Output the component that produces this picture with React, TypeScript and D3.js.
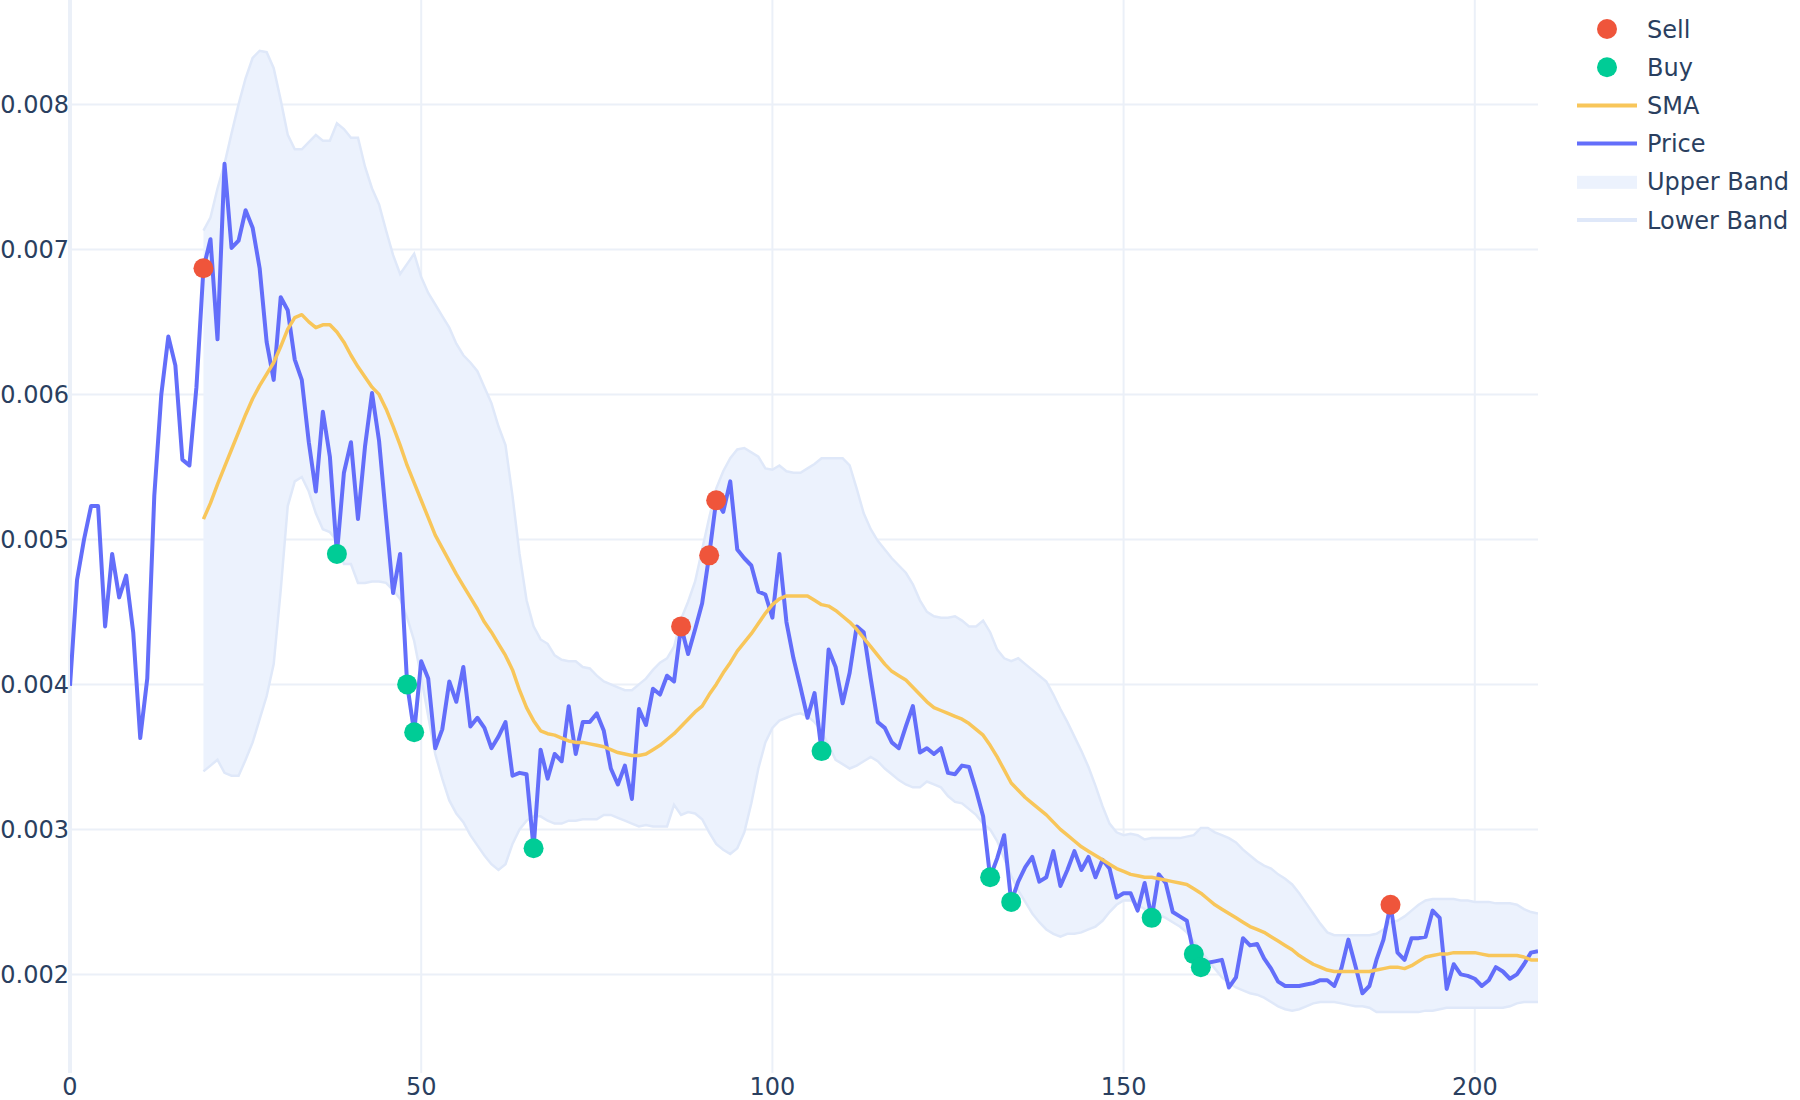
import React, { useEffect, useRef } from 'react';
import * as d3 from 'd3';

const width = 1800;
const height = 1100;
const plot = { left: 70, right: 1538, top: 0, bottom: 1073 };

// closing price, one value per index 0..209
const price = [
  0.00399, 0.00472, 0.005, 0.00523, 0.00523, 0.0044, 0.0049, 0.0046, 0.00475, 0.00436,
  0.00363, 0.00404, 0.0053, 0.006, 0.0064, 0.0062, 0.00555, 0.00551, 0.00605, 0.00687,
  0.00707, 0.00638, 0.00759, 0.00701, 0.00706, 0.00727, 0.00715, 0.00687, 0.00636, 0.0061,
  0.00667, 0.00658, 0.00624, 0.0061, 0.00567, 0.00533, 0.00588, 0.00557, 0.0049, 0.00546,
  0.00567, 0.00514, 0.00564, 0.00601, 0.00568, 0.00515, 0.00463, 0.0049, 0.004, 0.00367,
  0.00416, 0.00404, 0.00356, 0.00369, 0.00402, 0.00388, 0.00412, 0.00371, 0.00377, 0.0037,
  0.00356, 0.00364, 0.00374, 0.00337, 0.00339, 0.00338, 0.00287, 0.00355, 0.00335, 0.00352,
  0.00347, 0.00385, 0.00352, 0.00374, 0.00374, 0.0038, 0.00368, 0.00342, 0.00331, 0.00344,
  0.00321, 0.00383, 0.00372, 0.00397, 0.00393, 0.00406, 0.00402, 0.0044, 0.00421, 0.00438,
  0.00456, 0.00489, 0.00527, 0.00519, 0.0054, 0.00493, 0.00487, 0.00482, 0.00464, 0.00462,
  0.00446, 0.0049, 0.00443, 0.00418, 0.00398, 0.00377, 0.00394, 0.00354, 0.00424, 0.00412,
  0.00387, 0.00408, 0.0044, 0.00436, 0.00404, 0.00374, 0.0037, 0.0036, 0.00356, 0.00371,
  0.00385, 0.00353, 0.00356, 0.00352, 0.00356, 0.00339, 0.00338, 0.00344, 0.00343, 0.00327,
  0.00309, 0.00267, 0.0028, 0.00296, 0.0025, 0.00264, 0.00274, 0.00281, 0.00264, 0.00267,
  0.00285, 0.00261, 0.00272, 0.00285, 0.00272, 0.00281, 0.00267, 0.00279, 0.00273, 0.00253,
  0.00256, 0.00256, 0.00244, 0.00263, 0.00239, 0.00269, 0.00263, 0.00243, 0.0024, 0.00237,
  0.00214, 0.00205, 0.00208, 0.00209, 0.0021, 0.00191, 0.00198, 0.00225, 0.0022, 0.00221,
  0.00211, 0.00204, 0.00195, 0.00192, 0.00192, 0.00192, 0.00193, 0.00194, 0.00196, 0.00196,
  0.00192, 0.00204, 0.00224, 0.00206, 0.00187, 0.00192, 0.0021, 0.00224, 0.00248, 0.00215,
  0.0021, 0.00225, 0.00225, 0.00226, 0.00244, 0.00239, 0.0019, 0.00207, 0.002, 0.00199,
  0.00197, 0.00192, 0.00196, 0.00205, 0.00202, 0.00197, 0.002, 0.00207, 0.00215, 0.00216,
];

// rolling series start at index 19
const bandStart = 19;

const sma = [
  0.00514, 0.00525, 0.00538, 0.0055, 0.00562, 0.00574, 0.00586, 0.00597, 0.00606, 0.00614,
  0.00622, 0.00633, 0.00645, 0.00653, 0.00655, 0.0065, 0.00646, 0.00648, 0.00648, 0.00643,
  0.00636, 0.00627, 0.00619, 0.00612, 0.00605, 0.006, 0.0059, 0.00578, 0.00565, 0.00551,
  0.00539, 0.00527, 0.00515, 0.00503, 0.00494, 0.00485, 0.00476, 0.00468, 0.0046, 0.00452,
  0.00443, 0.00436, 0.00428, 0.0042, 0.0041, 0.00396, 0.00384, 0.00375, 0.00368, 0.00366,
  0.00365, 0.00363, 0.00361, 0.0036, 0.0036, 0.00359, 0.00358, 0.00357, 0.00355, 0.00353,
  0.00352, 0.00351, 0.00351, 0.00352, 0.00355, 0.00358, 0.00362, 0.00366, 0.00371, 0.00376,
  0.00381, 0.00385, 0.00393, 0.004, 0.00408, 0.00415, 0.00423, 0.00429, 0.00435, 0.00442,
  0.00449, 0.00455, 0.00459, 0.00461, 0.00461, 0.00461, 0.00461, 0.00458, 0.00455, 0.00454,
  0.00451, 0.00447, 0.00443, 0.00438, 0.00432, 0.00426, 0.0042, 0.00414, 0.00409, 0.00406,
  0.00403, 0.00398, 0.00393, 0.00388, 0.00384, 0.00382, 0.0038, 0.00378, 0.00376, 0.00373,
  0.00369, 0.00365, 0.00358, 0.0035, 0.00341, 0.00332, 0.00327, 0.00322, 0.00318, 0.00314,
  0.0031, 0.00305, 0.003, 0.00296, 0.00292, 0.00288, 0.00285, 0.00282, 0.00279, 0.00276,
  0.00273, 0.00271, 0.00269, 0.00268, 0.00267, 0.00267, 0.00266, 0.00265, 0.00264, 0.00263,
  0.00262, 0.00259, 0.00256, 0.00252, 0.00248, 0.00245, 0.00242, 0.00239, 0.00236, 0.00233,
  0.00231, 0.00229, 0.00226, 0.00223, 0.0022, 0.00217, 0.00213, 0.0021, 0.00207, 0.00205,
  0.00203, 0.00202, 0.00202, 0.00202, 0.00202, 0.00202, 0.00202, 0.00203, 0.00204, 0.00205,
  0.00205, 0.00204, 0.00206, 0.00209, 0.00212, 0.00213, 0.00214, 0.00214, 0.00215, 0.00215,
  0.00215, 0.00215, 0.00214, 0.00213, 0.00213, 0.00213, 0.00213, 0.00213, 0.00212, 0.0021, 0.0021,
];

const upperBand = [
  0.00713, 0.00722, 0.00742, 0.00759, 0.0078, 0.008, 0.00818, 0.00832, 0.00837, 0.00836,
  0.00825, 0.00803, 0.00779, 0.00769, 0.00769, 0.00774, 0.00779, 0.00775, 0.00775, 0.00787,
  0.00783, 0.00777, 0.00777, 0.00757, 0.00742, 0.00731, 0.00713, 0.00696, 0.00683, 0.0069,
  0.00697, 0.00681, 0.0067, 0.00662, 0.00654, 0.00646, 0.00635, 0.00627, 0.00622, 0.00616,
  0.00605, 0.00594, 0.00578, 0.00565, 0.0053, 0.0049, 0.00458, 0.0044, 0.00431, 0.00428,
  0.0042, 0.00417, 0.00416, 0.00416, 0.00412, 0.00411, 0.00406, 0.00402, 0.004, 0.00398,
  0.00396, 0.00396, 0.004, 0.00404, 0.0041, 0.00415, 0.00418, 0.00426, 0.00445, 0.00457,
  0.00471, 0.00493, 0.00515, 0.00535, 0.00547, 0.00556, 0.00562, 0.00563, 0.0056, 0.00557,
  0.00549, 0.00548, 0.00551, 0.00547, 0.00546, 0.00546, 0.00549, 0.00552, 0.00556, 0.00556,
  0.00556, 0.00556, 0.00551, 0.00535, 0.00518, 0.00507, 0.00499, 0.00493, 0.00487, 0.00482,
  0.00477, 0.00469, 0.00458, 0.0045, 0.00447, 0.00446, 0.00446, 0.00447, 0.00444, 0.0044,
  0.0044, 0.00444, 0.00436, 0.00424, 0.00418, 0.00416, 0.00418, 0.00414, 0.0041, 0.00406,
  0.00402, 0.00393, 0.00383, 0.00374, 0.00364, 0.00354, 0.00343, 0.0033, 0.00316, 0.00304,
  0.00298, 0.00296, 0.00297, 0.00296, 0.00293, 0.00294, 0.00294, 0.00294, 0.00294, 0.00294,
  0.00295, 0.00296, 0.00301, 0.00301, 0.00298, 0.00296, 0.00294, 0.00291, 0.00286, 0.00282,
  0.00278, 0.00275, 0.00273, 0.00269, 0.00266, 0.00262, 0.00256, 0.00249, 0.00242, 0.00235,
  0.00229, 0.00227, 0.00227, 0.00227, 0.00227, 0.00227, 0.00227, 0.00228, 0.00231, 0.00236,
  0.00237, 0.0024, 0.00244, 0.00248, 0.00251, 0.00252, 0.00252, 0.00252, 0.00252, 0.00251,
  0.00251, 0.0025, 0.0025, 0.0025, 0.00249, 0.00249, 0.00249, 0.00248, 0.00245, 0.00243, 0.00242,
];

const lowerBand = [
  0.0034, 0.00344, 0.00348, 0.00339, 0.00337, 0.00337, 0.00348, 0.0036, 0.00376, 0.00392,
  0.00414, 0.00465, 0.00523, 0.0054, 0.00543, 0.00533, 0.00518, 0.00507, 0.00505, 0.00499,
  0.00483, 0.00483, 0.0047, 0.0047, 0.00471, 0.00471, 0.0047, 0.00465, 0.00459, 0.00446,
  0.0043, 0.00405, 0.00378, 0.00352, 0.00335, 0.0032, 0.00311, 0.00305, 0.00296, 0.00289,
  0.00282, 0.00276, 0.00272, 0.00276, 0.0029, 0.003, 0.00306, 0.00309, 0.00309, 0.00306,
  0.00304, 0.00304, 0.00306, 0.00306, 0.00307, 0.00307, 0.00307, 0.0031, 0.0031, 0.00308,
  0.00306, 0.00304, 0.00302, 0.00303, 0.00302, 0.00302, 0.00302, 0.00317, 0.0031, 0.00312,
  0.00311, 0.00307, 0.00298, 0.0029, 0.00286, 0.00283, 0.00287, 0.00298, 0.00318, 0.00342,
  0.0036, 0.0037, 0.00375, 0.00377, 0.00379, 0.0038, 0.00378, 0.00374, 0.00368, 0.00358,
  0.00348, 0.00345, 0.00342, 0.00344, 0.00347, 0.0035, 0.00347, 0.00342, 0.00338, 0.00334,
  0.00331, 0.00329, 0.00329, 0.00333, 0.00331, 0.00329, 0.00323, 0.00319, 0.00318, 0.00314,
  0.0031, 0.00304, 0.003, 0.00292, 0.0028, 0.00268, 0.00258, 0.0025, 0.00242, 0.00236,
  0.00231, 0.00228, 0.00226, 0.00228, 0.00228, 0.00229, 0.00231, 0.00233, 0.00237, 0.00243,
  0.00248, 0.00251, 0.00251, 0.00248, 0.00245, 0.00243, 0.00241, 0.00239, 0.00236, 0.00233,
  0.00229, 0.00223, 0.00216, 0.0021, 0.00204, 0.00198, 0.00194, 0.00191, 0.00189, 0.00187,
  0.00186, 0.00184, 0.00181, 0.00178, 0.00176, 0.00175, 0.00176, 0.00178, 0.0018, 0.00181,
  0.00181, 0.00181, 0.0018, 0.00179, 0.00178, 0.00178, 0.00177, 0.00174, 0.00174, 0.00174,
  0.00174, 0.00174, 0.00174, 0.00174, 0.00175, 0.00175, 0.00176, 0.00177, 0.00177, 0.00177,
  0.00177, 0.00177, 0.00177, 0.00177, 0.00177, 0.00177, 0.00178, 0.0018, 0.00181, 0.00181, 0.00181,
];

const sellIdx = [19, 87, 91, 92, 188];
const buyIdx = [38, 48, 49, 66, 107, 131, 134, 154, 160, 161];

const xTicks = [0, 50, 100, 150, 200];
const yTicks = [0.002, 0.003, 0.004, 0.005, 0.006, 0.007, 0.008];

const colors = {
  price: '#636EFA',
  sma: '#F8C65A',
  sell: '#EF553B',
  buy: '#00CC96',
  bandFill: '#ECF2FD',
  bandLine: '#DFE8F9',
  grid: '#EBF0F8',
  text: '#2a3f5f',
};

const legendItems = [
  { name: 'Sell', kind: 'marker', color: colors.sell },
  { name: 'Buy', kind: 'marker', color: colors.buy },
  { name: 'SMA', kind: 'line', color: colors.sma },
  { name: 'Price', kind: 'line', color: colors.price },
  { name: 'Upper Band', kind: 'fill', color: colors.bandFill },
  { name: 'Lower Band', kind: 'line', color: colors.bandLine },
];

const font = '"DejaVu Sans", Verdana, sans-serif';

const App: React.FC = () => {
  const ref = useRef<SVGSVGElement>(null);

  useEffect(() => {
    if (!ref.current) return;
    const svg = d3.select(ref.current);
    svg.selectAll('*').remove();

    const x = d3.scaleLinear().domain([0, 209]).range([plot.left, plot.right]);
    const y = d3.scaleLinear().domain([0.00132, 0.00872]).range([plot.bottom, plot.top]);

    const defs = svg.append('defs');
    defs
      .append('clipPath')
      .attr('id', 'plotClip')
      .append('rect')
      .attr('x', plot.left)
      .attr('y', plot.top)
      .attr('width', plot.right - plot.left)
      .attr('height', plot.bottom - plot.top);

    // grid
    const grid = svg.append('g');
    grid
      .selectAll('line.h')
      .data(yTicks)
      .enter()
      .append('line')
      .attr('x1', plot.left)
      .attr('x2', plot.right)
      .attr('y1', d => y(d))
      .attr('y2', d => y(d))
      .attr('stroke', colors.grid)
      .attr('stroke-width', 2);
    grid
      .selectAll('line.v')
      .data(xTicks.filter(d => d !== 0))
      .enter()
      .append('line')
      .attr('x1', d => x(d))
      .attr('x2', d => x(d))
      .attr('y1', plot.top)
      .attr('y2', plot.bottom)
      .attr('stroke', colors.grid)
      .attr('stroke-width', 2);
    // zero line
    grid
      .append('line')
      .attr('x1', x(0))
      .attr('x2', x(0))
      .attr('y1', plot.top)
      .attr('y2', plot.bottom)
      .attr('stroke', colors.grid)
      .attr('stroke-width', 4);

    const g = svg.append('g').attr('clip-path', 'url(#plotClip)');

    const bandIdx = d3.range(lowerBand.length);
    const area = d3
      .area<number>()
      .x(i => x(i + bandStart))
      .y0(i => y(lowerBand[i]))
      .y1(i => y(upperBand[i]));
    g.append('path').attr('d', area(bandIdx)).attr('fill', colors.bandFill);

    const bandLine = (vals: number[]) =>
      d3
        .line<number>()
        .x((_, i) => x(i + bandStart))
        .y(v => y(v))(vals);

    g.append('path')
      .attr('d', bandLine(lowerBand))
      .attr('fill', 'none')
      .attr('stroke', colors.bandLine)
      .attr('stroke-width', 2.5);
    g.append('path')
      .attr('d', bandLine(upperBand))
      .attr('fill', 'none')
      .attr('stroke', colors.bandLine)
      .attr('stroke-width', 2.5);

    const priceLine = d3
      .line<number>()
      .x((_, i) => x(i))
      .y(v => y(v));
    g.append('path')
      .attr('d', priceLine(price))
      .attr('fill', 'none')
      .attr('stroke', colors.price)
      .attr('stroke-width', 4)
      .attr('stroke-linejoin', 'round');

    g.append('path')
      .attr('d', bandLine(sma))
      .attr('fill', 'none')
      .attr('stroke', colors.sma)
      .attr('stroke-width', 3.5)
      .attr('stroke-linejoin', 'round');

    g.selectAll('circle.buy')
      .data(buyIdx)
      .enter()
      .append('circle')
      .attr('cx', i => x(i))
      .attr('cy', i => y(price[i]))
      .attr('r', 10)
      .attr('fill', colors.buy);
    g.selectAll('circle.sell')
      .data(sellIdx)
      .enter()
      .append('circle')
      .attr('cx', i => x(i))
      .attr('cy', i => y(price[i]))
      .attr('r', 10)
      .attr('fill', colors.sell);

    // axis labels
    svg
      .append('g')
      .selectAll('text')
      .data(yTicks)
      .enter()
      .append('text')
      .attr('x', 69)
      .attr('y', d => y(d))
      .attr('dy', '0.36em')
      .attr('text-anchor', 'end')
      .attr('font-family', font)
      .attr('font-size', 24)
      .attr('fill', colors.text)
      .text(d => d3.format('.3f')(d));

    svg
      .append('g')
      .selectAll('text')
      .data(xTicks)
      .enter()
      .append('text')
      .attr('x', d => x(d))
      .attr('y', 1095)
      .attr('text-anchor', 'middle')
      .attr('font-family', font)
      .attr('font-size', 24)
      .attr('fill', colors.text)
      .text(d => String(d));

    // legend
    const legend = svg.append('g').attr('transform', 'translate(1567, 29)');
    legendItems.forEach((item, k) => {
      const row = legend.append('g').attr('transform', `translate(0, ${k * 38.2})`);
      if (item.kind === 'marker') {
        row.append('circle').attr('cx', 40).attr('cy', 0).attr('r', 10).attr('fill', item.color);
      } else if (item.kind === 'line') {
        row
          .append('line')
          .attr('x1', 10)
          .attr('x2', 70)
          .attr('y1', 0)
          .attr('y2', 0)
          .attr('stroke', item.color)
          .attr('stroke-width', 4);
      } else {
        row
          .append('rect')
          .attr('x', 10)
          .attr('y', -6)
          .attr('width', 60)
          .attr('height', 13)
          .attr('fill', item.color);
      }
      row
        .append('text')
        .attr('x', 80)
        .attr('y', 0)
        .attr('dy', '0.36em')
        .attr('font-family', font)
        .attr('font-size', 24)
        .attr('fill', colors.text)
        .text(item.name);
    });
  }, []);

  return (
    <div style={{ position: 'absolute', left: 0, top: 0, width, height, background: '#fff' }}>
      <svg ref={ref} width={width} height={height} />
    </div>
  );
};

export default App;
